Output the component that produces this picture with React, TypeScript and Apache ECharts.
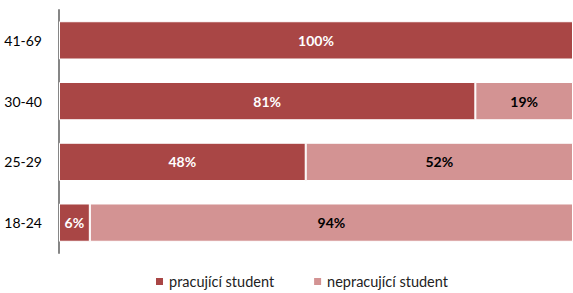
import React, { useEffect, useRef } from "react";
import * as echarts from "echarts";

const categories = ["18-24", "25-29", "30-40", "41-69"];
const working = [6, 48, 81, 100];
const notWorking = [94, 52, 19, 0];
const seriesNames = ["pracující student", "nepracující student"];

export default function App() {
  const ref = useRef<HTMLDivElement>(null);
  useEffect(() => {
    const chart = echarts.init(ref.current!, null, { renderer: "svg" });
    const font = "Lato, 'Open Sans', sans-serif";
    chart.setOption({
      animation: false,
      textStyle: { fontFamily: font },
      grid: { left: 59, right: 0, top: 10, bottom: 40, containLabel: false },
      legend: {
        bottom: -1,
        left: 149,
        itemWidth: 9,
        itemHeight: 9,
        itemGap: 38,
        icon: "rect",
        textStyle: { fontSize: 14.5, color: "#222", fontFamily: font },
        data: seriesNames,
      },
      xAxis: {
        type: "value",
        min: 0,
        max: 100,
        show: false,
      },
      yAxis: {
        type: "category",
        data: categories,
        axisLine: { show: true, lineStyle: { color: "#868686", width: 2 } },
        axisTick: { show: false },
        axisLabel: { color: "#000", fontSize: 14, margin: 17, fontFamily: font },
      },
      series: [
        {
          name: seriesNames[0],
          type: "bar",
          stack: "s",
          data: working,
          barCategoryGap: "37%",
          itemStyle: { color: "#A94645", borderColor: "#fff", borderWidth: 1 },
          label: {
            show: true,
            position: "inside",
            formatter: (p: any) => (p.value > 0 ? p.value + "%" : ""),
            color: "#fff",
            fontWeight: "bold",
            fontSize: 14,
            fontFamily: font,
          },
        },
        {
          name: seriesNames[1],
          type: "bar",
          stack: "s",
          data: notWorking,
          itemStyle: { color: "#D39393", borderColor: "#fff", borderWidth: 1 },
          label: {
            show: true,
            position: "inside",
            formatter: (p: any) => (p.value > 0 ? p.value + "%" : ""),
            color: "#000",
            fontWeight: "bold",
            fontSize: 14,
            fontFamily: font,
          },
        },
      ],
    });
    return () => chart.dispose();
  }, []);
  return <div ref={ref} style={{ width: 573, height: 293, position: "absolute", left: 0, top: 0 }} />;
}
